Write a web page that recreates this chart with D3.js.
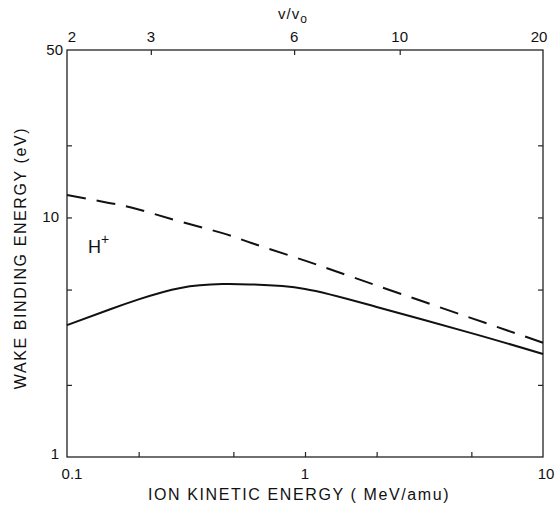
<!DOCTYPE html>
<html>
<head>
<meta charset="utf-8">
<script src="https://cdn.jsdelivr.net/npm/d3@7"></script>
<style>
  body { margin: 0; background: #fff; }
  text { font-family: "Liberation Sans", Arial, sans-serif; fill: #111; }
</style>
</head>
<body>
<div id="chart-area"></div>
<script>
// ion energy (MeV/amu) and wake binding energy (eV)
var energy = [0.1, 0.15, 0.2, 0.3, 0.45, 0.6, 1, 2, 5, 10];
var dashedH = [12.4, 11.5, 10.8, 9.6, 8.6, 7.8, 6.6, 5.2, 3.8, 3.0];
var solidH = [3.55, 4.12, 4.55, 5.08, 5.27, 5.25, 5.03, 4.23, 3.29, 2.69];

var bottomTicks = [0.2, 0.5, 1, 2, 5];
var bottomLabels = [0.1, 1, 10];
var leftTicks = [2, 5, 10, 20];
var leftLabels = [1, 10, 50];
var topVel = [2, 3, 6, 10, 20];   // v/v0

var margin = { left: 67, right: 12, top: 50, bottom: 48 };
var width = 555 - margin.left - margin.right,
    height = 505 - margin.top - margin.bottom;

var svg = d3.select("#chart-area")
    .append("svg")
        .attr("width", 555)
        .attr("height", 505);

var g = svg.append("g")
    .attr("transform", "translate(" + margin.left + ", " + margin.top + ")");

var x = d3.scaleLog().domain([0.1, 10]).range([0, width]);
var y = d3.scaleLog().domain([1, 50]).range([height, 0]);
// v/v0 -> energy: E = 0.025 * (v/v0)^2 MeV/amu, so v/v0 is log-linear too
var xTop = d3.scaleLog()
    .domain([2, 20])
    .range([0, width]);

var tickLen = 5;

// Frame
g.append("rect")
    .attr("width", width)
    .attr("height", height)
    .attr("fill", "none")
    .attr("stroke", "#222")
    .attr("stroke-width", 1.3);

// bottom axis
var xAxis = d3.axisBottom(x)
    .tickValues(bottomTicks)
    .tickSize(-tickLen)
    .tickFormat("");
g.append("g")
    .attr("transform", "translate(0," + height + ")")
    .call(xAxis)
    .call(function(s){ s.select(".domain").remove(); })
    .selectAll("line").attr("stroke", "#222").attr("stroke-width", 1.2);

g.selectAll(".xlab")
    .data(bottomLabels)
    .enter().append("text")
    .attr("class", "xlab")
    .attr("x", function(d){ return x(d) + (d == 0.1 ? 5 : (d == 10 ? 3 : 0)); })
    .attr("y", height + 22)
    .attr("text-anchor", "middle")
    .attr("font-size", "15px")
    .text(function(d){ return d; });

// left + right axes
var yLeft = d3.axisLeft(y).tickValues(leftTicks).tickSize(-tickLen).tickFormat("");
var yRight = d3.axisRight(y).tickValues(leftTicks).tickSize(-tickLen).tickFormat("");
g.append("g")
    .call(yLeft)
    .call(function(s){ s.select(".domain").remove(); })
    .selectAll("line").attr("stroke", "#222").attr("stroke-width", 1.2);
g.append("g")
    .attr("transform", "translate(" + width + ",0)")
    .call(yRight)
    .call(function(s){ s.select(".domain").remove(); })
    .selectAll("line").attr("stroke", "#222").attr("stroke-width", 1.2);

g.selectAll(".ylab")
    .data(leftLabels)
    .enter().append("text")
    .attr("class", "ylab")
    .attr("x", function(d){ return d == 50 ? -4 : -8; })
    .attr("y", function(d){ return y(d) + (d == 1 ? 2 : 5); })
    .attr("text-anchor", "end")
    .attr("font-size", "15px")
    .text(function(d){ return d; });

// top axis (v/v0)
var topAxis = d3.axisTop(xTop)
    .tickValues(topVel.slice(1, -1))
    .tickSize(-tickLen)
    .tickFormat("");
g.append("g")
    .call(topAxis)
    .call(function(s){ s.select(".domain").remove(); })
    .selectAll("line").attr("stroke", "#222").attr("stroke-width", 1.2);

g.selectAll(".toplab")
    .data(topVel)
    .enter().append("text")
    .attr("class", "toplab")
    .attr("x", function(d){ return xTop(d) + (d == 2 ? 5 : (d == 20 ? -4 : 0)); })
    .attr("y", -8)
    .attr("text-anchor", "middle")
    .attr("font-size", "15px")
    .text(function(d){ return d; });

var vLabel = g.append("text")
    .attr("x", xTop(6) - 16)
    .attr("y", -31)
    .attr("font-size", "15px")
    .attr("letter-spacing", "1px");
vLabel.append("tspan").text("v/v");
vLabel.append("tspan").attr("dy", 4).attr("font-size", "12px").text("o");

// Curves
var line = d3.line()
    .x(function(d){ return x(d[0]); })
    .y(function(d){ return y(d[1]); })
    .curve(d3.curveNatural);

g.append("path")
    .datum(d3.zip(energy, dashedH))
    .attr("d", line)
    .attr("fill", "none")
    .attr("stroke", "#111")
    .attr("stroke-width", 2)
    .attr("stroke-dasharray", "19,11");

g.append("path")
    .datum(d3.zip(energy, solidH))
    .attr("d", line)
    .attr("fill", "none")
    .attr("stroke", "#111")
    .attr("stroke-width", 2);

// H+ label
var hLabel = g.append("text")
    .attr("x", 21)
    .attr("y", 203)
    .attr("font-size", "18px");
hLabel.append("tspan").text("H");
hLabel.append("tspan").attr("dy", -9).attr("font-size", "14px").text("+");

// Axis titles
g.append("text")
    .attr("x", width / 2 - 6)
    .attr("y", height + 43)
    .attr("text-anchor", "middle")
    .attr("font-size", "16px")
    .attr("letter-spacing", "1.6px")
    .text("ION KINETIC ENERGY ( MeV/amu)");

g.append("text")
    .attr("transform", "rotate(-90)")
    .attr("x", -(258 - margin.top))
    .attr("y", -41)
    .attr("text-anchor", "middle")
    .attr("font-size", "16px")
    .attr("letter-spacing", "1.6px")
    .text("WAKE BINDING ENERGY (eV)");
</script>
</body>
</html>
